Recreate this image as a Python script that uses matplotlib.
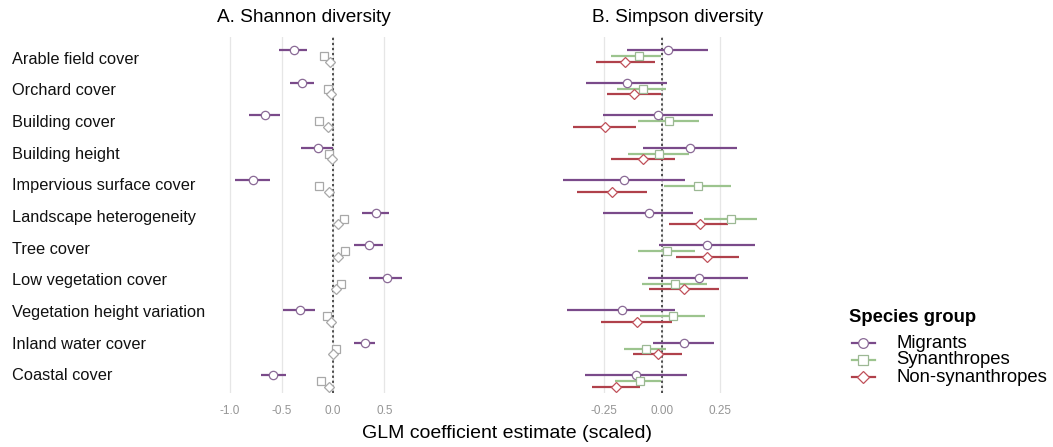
import numpy as np
import matplotlib
matplotlib.use("Agg")
import matplotlib.pyplot as plt
from matplotlib.lines import Line2D

plt.rcParams['font.family'] = ['Liberation Sans', 'DejaVu Sans']

predictors = ['Arable field cover', 'Orchard cover', 'Building cover', 'Building height',
              'Impervious surface cover', 'Landscape heterogeneity', 'Tree cover',
              'Low vegetation cover', 'Vegetation height variation', 'Inland water cover',
              'Coastal cover']
groups = ['Migrants', 'Synanthropes', 'Non-synanthropes']

# Shannon diversity: estimate, lower, upper
sh_mig = [-0.38, -0.30, -0.66, -0.15, -0.78, 0.42, 0.35, 0.52, -0.32, 0.31, -0.58]
sh_mig_lo = [-0.52, -0.42, -0.82, -0.31, -0.95, 0.28, 0.20, 0.35, -0.49, 0.20, -0.70]
sh_mig_hi = [-0.25, -0.18, -0.51, 0.00, -0.61, 0.54, 0.49, 0.67, -0.17, 0.41, -0.46]
sh_syn = [-0.09, -0.05, -0.14, -0.04, -0.14, 0.11, 0.12, 0.08, -0.06, 0.03, -0.12]
sh_syn_lo = [-0.11, -0.07, -0.16, -0.06, -0.16, 0.09, 0.10, 0.06, -0.08, 0.01, -0.14]
sh_syn_hi = [-0.07, -0.03, -0.12, -0.02, -0.12, 0.13, 0.14, 0.10, -0.04, 0.05, -0.10]
sh_non = [-0.03, -0.02, -0.05, -0.01, -0.04, 0.05, 0.05, 0.03, -0.02, 0.00, -0.04]
sh_non_lo = [-0.04, -0.03, -0.06, -0.02, -0.05, 0.04, 0.04, 0.02, -0.03, -0.01, -0.05]
sh_non_hi = [-0.02, -0.01, -0.04, 0.00, -0.03, 0.06, 0.06, 0.04, -0.01, 0.01, -0.03]

# Simpson diversity: estimate, lower, upper
si_mig = [0.026, -0.15, -0.017, 0.12, -0.163, -0.058, 0.192, 0.16, -0.174, 0.094, -0.112]
si_mig_lo = [-0.153, -0.33, -0.254, -0.083, -0.429, -0.254, -0.015, -0.061, -0.41, -0.039, -0.334]
si_mig_hi = [0.20, 0.022, 0.221, 0.323, 0.099, 0.135, 0.40, 0.371, 0.055, 0.225, 0.109]
si_syn = [-0.099, -0.084, 0.032, -0.015, 0.156, 0.298, 0.022, 0.055, 0.047, -0.068, -0.097]
si_syn_lo = [-0.218, -0.193, -0.105, -0.145, 0.007, 0.182, -0.102, -0.087, -0.097, -0.163, -0.203]
si_syn_hi = [-0.003, 0.017, 0.16, 0.116, 0.298, 0.411, 0.141, 0.196, 0.185, 0.019, -0.003]
si_non = [-0.158, -0.119, -0.244, -0.084, -0.214, 0.163, 0.196, 0.094, -0.109, -0.017, -0.199]
si_non_lo = [-0.283, -0.237, -0.385, -0.222, -0.366, 0.032, 0.061, -0.055, -0.262, -0.124, -0.301]
si_non_hi = [-0.032, -0.003, -0.113, 0.054, -0.065, 0.286, 0.33, 0.247, 0.044, 0.087, -0.097]

line_cols = ['#7a4a8a', '#9cc48e', '#b0414b']
edge_cols = ['#8a6a96', '#9cb894', '#c0505a']
markers = ['o', 's', 'D']
msizes = [6, 5.5, 5]
offsets = [0.17, 0.0, -0.17]

W, H = 1053, 447
fig = plt.figure(figsize=(W / 100, H / 100), dpi=100)
bottom, height = 1 - 393 / H, (393 - 37) / H
ax1 = fig.add_axes([225 / W, bottom, 185 / W, height])
ax2 = fig.add_axes([560 / W, bottom, 205 / W, height])

ypos = np.arange(len(predictors))[::-1] + 1.0


def draw_panel(ax, series, grey_small=False):
    for k, (est, lo, hi) in enumerate(series):
        y = ypos + offsets[k]
        lc = line_cols[k]
        ec = edge_cols[k]
        if grey_small and k > 0:
            lc = ec = '#a8a8a8'
        ax.hlines(y, lo, hi, color=lc, lw=1.6, zorder=2)
        ax.plot(est, y, ls='none', marker=markers[k], ms=msizes[k],
                mfc='white', mec=ec, mew=0.9, zorder=3)
    ax.axvline(0, color='#222222', ls=(0, (1.5, 1.8)), lw=1.1, zorder=1)
    ax.set_ylim(0.631, 11.585)
    ax.set_yticks([])
    for s in ax.spines.values():
        s.set_visible(False)
    ax.grid(axis='x', color='#e6e6e6', lw=0.9)
    ax.set_axisbelow(True)
    ax.tick_params(axis='x', length=0, labelsize=8.5, labelcolor='#959595', pad=9)


draw_panel(ax1, [(sh_mig, sh_mig_lo, sh_mig_hi),
                 (sh_syn, sh_syn_lo, sh_syn_hi),
                 (sh_non, sh_non_lo, sh_non_hi)], grey_small=True)
ax1.set_xlim(-1.049, 0.748)
ax1.set_xticks([-1.0, -0.5, 0.0, 0.5])
ax1.set_xticklabels(['-1.0', '-0.5', '0.0', '0.5'])

draw_panel(ax2, [(si_mig, si_mig_lo, si_mig_hi),
                 (si_syn, si_syn_lo, si_syn_hi),
                 (si_non, si_non_lo, si_non_hi)])
ax2.set_xlim(-0.44, 0.444)
ax2.set_xticks([-0.25, 0.0, 0.25])
ax2.set_xticklabels(['-0.25', '0.00', '0.25'])

# predictor names down the left side
for i, name in enumerate(predictors):
    fy = 1 - (59 + i * 31.7) / H
    fig.text(12 / W, fy, name, ha='left', va='center', fontsize=11.8, color='#111111')

fig.text(304 / W, 1 - 18 / H, 'A. Shannon diversity', ha='center', va='center', fontsize=13.7)
fig.text(678 / W, 1 - 18 / H, 'B. Simpson diversity', ha='center', va='center', fontsize=13.7)
fig.text(507 / W, 1 - 433 / H, 'GLM coefficient estimate (scaled)', ha='center',
         va='center', fontsize=14)

# legend drawn by hand so the rows sit tight together
fig.text(849 / W, 1 - 318 / H, 'Species group', ha='left', va='center',
         fontsize=13.3, fontweight='bold')
for k, (name, ry) in enumerate(zip(groups, [343, 360, 377])):
    fy = 1 - ry / H
    fig.add_artist(Line2D([852 / W, 875 / W], [fy, fy], color=line_cols[k], lw=1.6,
                          transform=fig.transFigure))
    fig.add_artist(Line2D([863 / W], [fy], ls='none', marker=markers[k], ms=msizes[k] + 1,
                          mfc='white', mec=edge_cols[k], mew=0.9, transform=fig.transFigure))
    fig.text(896 / W, fy, name, ha='left', va='center', fontsize=13.3)

fig.savefig('out.png', dpi=100)
